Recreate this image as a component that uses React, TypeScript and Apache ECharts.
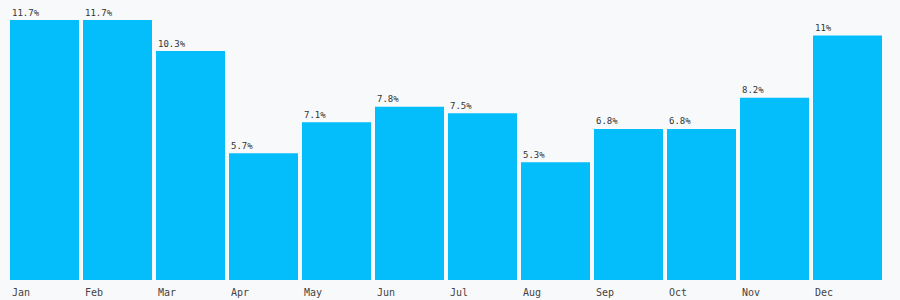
import React, { useEffect, useRef } from "react";
import * as echarts from "echarts";

const months = ["Jan", "Feb", "Mar", "Apr", "May", "Jun", "Jul", "Aug", "Sep", "Oct", "Nov", "Dec"];
const values = [11.7, 11.7, 10.3, 5.7, 7.1, 7.8, 7.5, 5.3, 6.8, 6.8, 8.2, 11];

const FONT = "'DejaVu Sans Mono', 'Liberation Mono', monospace";

export default function App() {
  const ref = useRef<HTMLDivElement>(null);
  useEffect(() => {
    const chart = echarts.init(ref.current!, null, { renderer: "svg" });
    chart.setOption({
      animation: false,
      backgroundColor: "#f8f9fa",
      grid: { left: 8, right: 16, top: 20, bottom: 20 },
      xAxis: [
        {
          type: "category",
          data: months,
          axisLine: { show: false },
          axisTick: { show: false },
          axisLabel: { show: false },
        },
        {
          type: "value",
          position: "bottom",
          min: 0,
          max: 12,
          interval: 1,
          axisLine: { show: false },
          axisTick: { show: false },
          splitLine: { show: false },
          axisLabel: {
            align: "left",
            margin: 7,
            padding: [0, 0, 0, 4],
            color: "#444",
            fontFamily: FONT,
            fontSize: 10,
            showMaxLabel: false,
            formatter: (v: number) => months[v] ?? "",
          },
        },
      ],
      yAxis: {
        type: "value",
        min: 0,
        max: 11.7,
        show: false,
        splitLine: { show: false },
      },
      series: [
        {
          type: "bar",
          data: values,
          xAxisIndex: 0,
          barCategoryGap: 4,
          itemStyle: { color: "#03befb" },
          label: {
            show: true,
            position: [2, -3],
            align: "left",
            verticalAlign: "bottom",
            color: "#333",
            fontFamily: FONT,
            fontSize: 9,
            formatter: (p: any) => `${p.value}%`,
          },
        },
      ],
    });
    return () => chart.dispose();
  }, []);
  return <div ref={ref} style={{ width: 900, height: 300, position: "absolute", left: 0, top: 0 }} />;
}
